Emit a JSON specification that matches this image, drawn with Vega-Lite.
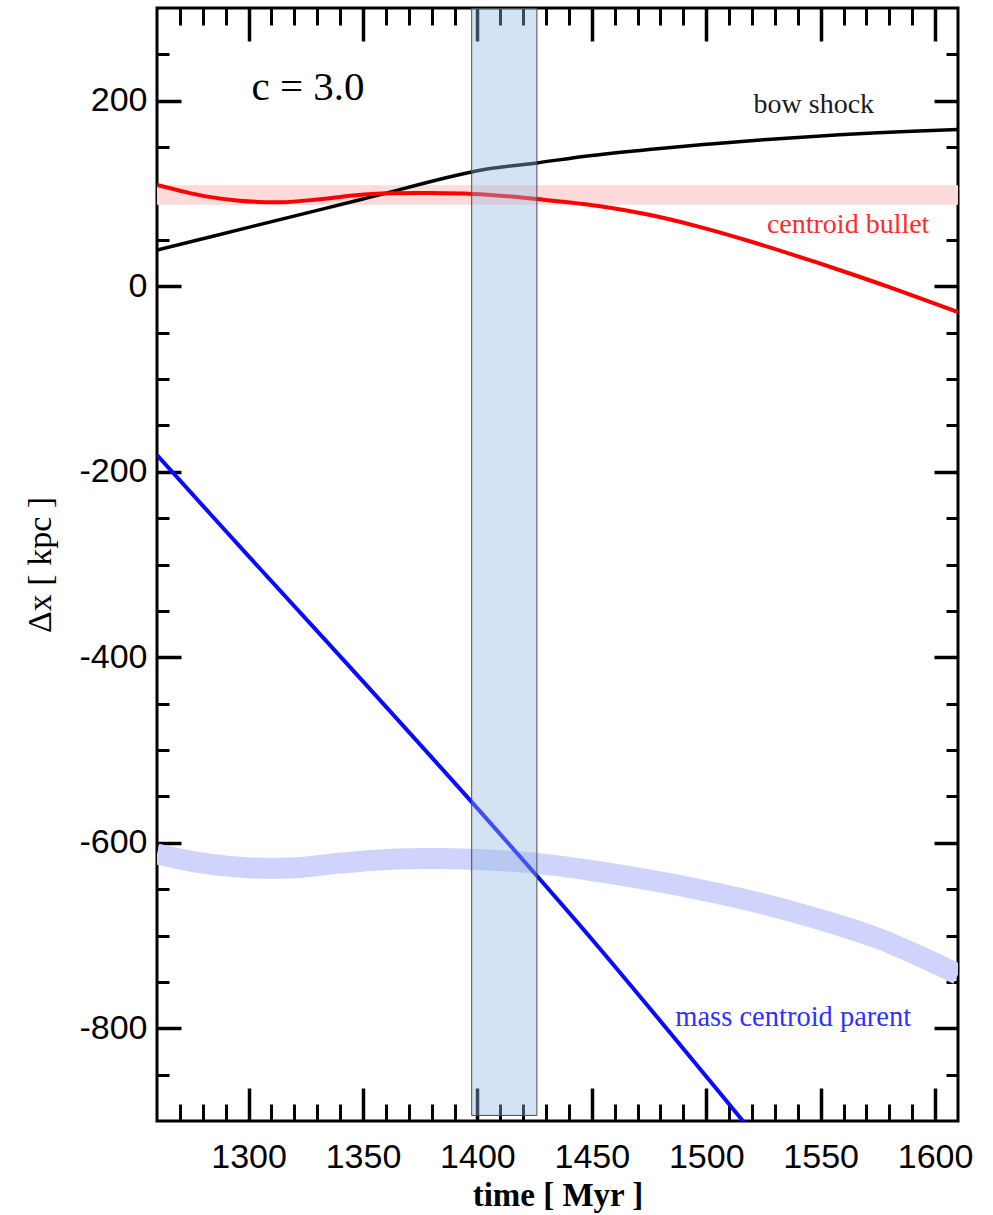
{
  "$schema": "https://vega.github.io/schema/vega-lite/v6.json",
  "autosize": {"type": "none"},
  "width": 801,
  "height": 1113,
  "padding": {"left": 157, "top": 8, "right": 35, "bottom": 94},
  "background": "white",
  "config": {
    "axis": {"grid": false, "domain": false, "tickColor": "black", "labelColor": "black", "titleColor": "black"},
    "view": {"stroke": "black", "strokeWidth": 3}
  },
  "datasets": {
    "bulletBand": [
      {"t": 1260, "lo": 88, "hi": 109},
      {"t": 1610, "lo": 88, "hi": 109}
    ],
    "parentBand": [
      {"t": 1260, "v": -612}, {"t": 1280, "v": -622}, {"t": 1300, "v": -627}, {"t": 1320, "v": -627},
      {"t": 1340, "v": -622}, {"t": 1360, "v": -618}, {"t": 1380, "v": -617}, {"t": 1400, "v": -618},
      {"t": 1425, "v": -622}, {"t": 1450, "v": -630}, {"t": 1475, "v": -640}, {"t": 1500, "v": -652},
      {"t": 1525, "v": -666}, {"t": 1550, "v": -683}, {"t": 1575, "v": -703}, {"t": 1600, "v": -730},
      {"t": 1610, "v": -742}
    ],
    "bow": [
      {"t": 1260, "v": 39}, {"t": 1300, "v": 63.5}, {"t": 1350, "v": 94}, {"t": 1400, "v": 124.5},
      {"t": 1426, "v": 133}, {"t": 1450, "v": 141}, {"t": 1475, "v": 147.5}, {"t": 1500, "v": 153},
      {"t": 1525, "v": 158}, {"t": 1550, "v": 162}, {"t": 1575, "v": 165.5}, {"t": 1610, "v": 169}
    ],
    "bullet": [
      {"t": 1260, "v": 109.2}, {"t": 1270, "v": 103}, {"t": 1282, "v": 96.6}, {"t": 1296, "v": 92.3},
      {"t": 1314, "v": 90.6}, {"t": 1330, "v": 93.5}, {"t": 1347, "v": 98.2}, {"t": 1362, "v": 100.2},
      {"t": 1380, "v": 100.5}, {"t": 1398, "v": 99.5}, {"t": 1413, "v": 97}, {"t": 1426, "v": 94},
      {"t": 1453, "v": 86.5}, {"t": 1475, "v": 77}, {"t": 1497, "v": 64}, {"t": 1519, "v": 48.5},
      {"t": 1541, "v": 31.5}, {"t": 1563, "v": 13.5}, {"t": 1580, "v": -1}, {"t": 1610, "v": -28}
    ],
    "parent": [
      {"t": 1260, "v": -182}, {"t": 1300, "v": -291}, {"t": 1350, "v": -426}, {"t": 1400, "v": -563},
      {"t": 1450, "v": -704}, {"t": 1500, "v": -852}, {"t": 1520, "v": -912}
    ],
    "region": [
      {"t0": 1397.5, "t1": 1426, "v0": -894, "v1": 300}
    ],
    "cLabel": [{"t": 1326, "v": 201, "label": "c = 3.0"}],
    "bowLabel": [{"t": 1547, "v": 187, "label": "bow shock"}],
    "bulletLabel": [{"t": 1562, "v": 57.5, "label": "centroid bullet"}],
    "parentLabel": [{"t": 1538, "v": -798, "label": "mass centroid parent"}]
  },
  "resolve": {"axis": {"x": "independent", "y": "independent"}},
  "layer": [
    {
      "data": {"name": "bulletBand"},
      "mark": {"type": "area", "color": "#ffdada", "clip": true},
      "encoding": {
        "x": {"field": "t", "type": "quantitative",
          "scale": {"domain": [1260, 1610], "nice": false, "zero": false},
          "axis": {"orient": "bottom", "values": [1300, 1350, 1400, 1450, 1500, 1550, 1600],
            "ticks": false, "tickSize": 0, "labelPadding": 19, "labelFont": "Liberation Sans",
            "labelFontSize": 34, "labelExpr": "'' + datum.value", "labelFlush": false, "labelOverlap": false,
            "title": "time [ Myr ]", "titleFont": "Liberation Serif", "titleFontSize": 33,
            "titleFontWeight": "bold", "titleBaseline": "alphabetic", "titleY": 84}},
        "y": {"field": "lo", "type": "quantitative",
          "scale": {"domain": [-900, 300], "nice": false, "zero": false},
          "axis": {"orient": "left", "values": [-800, -600, -400, -200, 0, 200],
            "ticks": false, "tickSize": 0, "labelPadding": 10, "labelFont": "Liberation Sans",
            "labelFontSize": 34, "labelExpr": "'' + datum.value", "labelFlush": false, "labelOverlap": false,
            "title": "Δx [ kpc ]", "titleFont": "Liberation Serif", "titleFontSize": 34,
            "titleFontWeight": "normal", "titleAngle": -90, "titleBaseline": "alphabetic", "titleX": -107}},
        "y2": {"field": "hi"}
      }
    },
    {
      "data": {"name": "parentBand"},
      "mark": {"type": "line", "color": "#d0d4fc", "strokeWidth": 21, "interpolate": "catmull-rom", "strokeCap": "butt", "clip": true},
      "encoding": {
        "x": {"field": "t", "type": "quantitative",
          "axis": {"orient": "bottom", "values": [1300, 1350, 1400, 1450, 1500, 1550, 1600],
            "labels": false, "tickSize": -33, "tickWidth": 3.5, "title": null}},
        "y": {"field": "v", "type": "quantitative",
          "axis": {"orient": "left", "values": [-800, -600, -400, -200, 0, 200],
            "labels": false, "tickSize": -24, "tickWidth": 3.5, "title": null}}
      }
    },
    {
      "data": {"name": "bow"},
      "mark": {"type": "line", "color": "black", "strokeWidth": 3.5, "interpolate": "catmull-rom", "clip": true},
      "encoding": {
        "x": {"field": "t", "type": "quantitative",
          "axis": {"orient": "bottom",
            "values": [1270, 1280, 1290, 1310, 1320, 1330, 1340, 1360, 1370, 1380, 1390, 1410, 1420, 1430, 1440, 1460, 1470, 1480, 1490, 1510, 1520, 1530, 1540, 1560, 1570, 1580, 1590],
            "labels": false, "tickSize": -17, "tickWidth": 3, "title": null}},
        "y": {"field": "v", "type": "quantitative",
          "axis": {"orient": "left",
            "values": [-850, -750, -700, -650, -550, -500, -450, -350, -300, -250, -150, -100, -50, 50, 100, 150, 250],
            "labels": false, "tickSize": -12, "tickWidth": 3, "title": null}}
      }
    },
    {
      "data": {"name": "bullet"},
      "mark": {"type": "line", "color": "#ff0000", "strokeWidth": 4, "interpolate": "catmull-rom", "clip": true},
      "encoding": {
        "x": {"field": "t", "type": "quantitative",
          "axis": {"orient": "top", "values": [1300, 1350, 1400, 1450, 1500, 1550, 1600],
            "labels": false, "tickSize": -33, "tickWidth": 3.5, "title": null}},
        "y": {"field": "v", "type": "quantitative",
          "axis": {"orient": "right", "values": [-800, -600, -400, -200, 0, 200],
            "labels": false, "tickSize": -24, "tickWidth": 3.5, "title": null}}
      }
    },
    {
      "data": {"name": "parent"},
      "mark": {"type": "line", "color": "#0a0aff", "strokeWidth": 4, "interpolate": "catmull-rom", "clip": true},
      "encoding": {
        "x": {"field": "t", "type": "quantitative",
          "axis": {"orient": "top",
            "values": [1270, 1280, 1290, 1310, 1320, 1330, 1340, 1360, 1370, 1380, 1390, 1410, 1420, 1430, 1440, 1460, 1470, 1480, 1490, 1510, 1520, 1530, 1540, 1560, 1570, 1580, 1590],
            "labels": false, "tickSize": -17, "tickWidth": 3, "title": null}},
        "y": {"field": "v", "type": "quantitative",
          "axis": {"orient": "right",
            "values": [-850, -750, -700, -650, -550, -500, -450, -350, -300, -250, -150, -100, -50, 50, 100, 150, 250],
            "labels": false, "tickSize": -12, "tickWidth": 3, "title": null}}
      }
    },
    {
      "mark": {"type": "rule", "color": "black", "strokeWidth": 3, "strokeDash": [20, 14.5]},
      "encoding": {
        "y": {"datum": 0, "type": "quantitative", "axis": null}
      }
    },
    {
      "data": {"name": "region"},
      "mark": {"type": "rect", "fill": "#91b9e1", "fillOpacity": 0.4, "stroke": "#4a4a4a", "strokeWidth": 1, "clip": true},
      "encoding": {
        "x": {"field": "t0", "type": "quantitative", "axis": null},
        "x2": {"field": "t1"},
        "y": {"field": "v0", "type": "quantitative", "axis": null},
        "y2": {"field": "v1"}
      }
    },
    {
      "data": {"name": "cLabel"},
      "mark": {"type": "text", "font": "Liberation Serif", "fontSize": 41, "color": "black", "align": "center", "baseline": "alphabetic"},
      "encoding": {
        "x": {"field": "t", "type": "quantitative", "axis": null},
        "y": {"field": "v", "type": "quantitative", "axis": null},
        "text": {"field": "label"}
      }
    },
    {
      "data": {"name": "bowLabel"},
      "mark": {"type": "text", "font": "Liberation Serif", "fontSize": 28, "color": "#1a1a1a", "align": "center", "baseline": "alphabetic"},
      "encoding": {
        "x": {"field": "t", "type": "quantitative", "axis": null},
        "y": {"field": "v", "type": "quantitative", "axis": null},
        "text": {"field": "label"}
      }
    },
    {
      "data": {"name": "bulletLabel"},
      "mark": {"type": "text", "font": "Liberation Serif", "fontSize": 28, "color": "#ff2a2a", "align": "center", "baseline": "alphabetic"},
      "encoding": {
        "x": {"field": "t", "type": "quantitative", "axis": null},
        "y": {"field": "v", "type": "quantitative", "axis": null},
        "text": {"field": "label"}
      }
    },
    {
      "data": {"name": "parentLabel"},
      "mark": {"type": "text", "font": "Liberation Serif", "fontSize": 28.5, "color": "#3030ff", "align": "center", "baseline": "alphabetic"},
      "encoding": {
        "x": {"field": "t", "type": "quantitative", "axis": null},
        "y": {"field": "v", "type": "quantitative", "axis": null},
        "text": {"field": "label"}
      }
    }
  ]
}
